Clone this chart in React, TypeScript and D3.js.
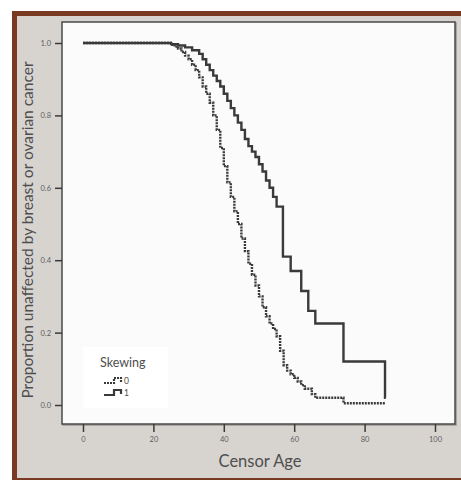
import { useEffect, useRef } from 'react';
import * as d3 from 'd3';

// Kaplan-Meier estimates: [age, proportion]
const skew0: [number, number][] = [
  [0, 1.0], [24, 1.0], [25, 0.995], [26, 0.99], [27, 0.985], [28, 0.975], [29, 0.965],
  [30, 0.955], [31, 0.94], [32, 0.925], [33, 0.905], [34, 0.88], [35, 0.86], [36, 0.835],
  [37, 0.8], [38, 0.76], [39, 0.71], [40, 0.66], [41, 0.615], [42, 0.575], [43, 0.535],
  [44, 0.5], [45, 0.46], [46, 0.425], [47, 0.39], [48, 0.36], [49, 0.33], [50, 0.3],
  [51, 0.27], [52, 0.245], [53, 0.225], [54, 0.21], [55, 0.19], [56, 0.15], [57, 0.11],
  [58, 0.095], [59, 0.085], [60, 0.075], [61, 0.065], [62, 0.055], [63, 0.045], [65, 0.03],
  [66, 0.02], [74, 0.005], [86, 0.005],
];

const skew1: [number, number][] = [
  [0, 1.0], [23, 1.0], [25, 0.997], [27, 0.993], [29, 0.988], [31, 0.98], [33, 0.97],
  [34, 0.955], [35, 0.94], [36, 0.925], [37, 0.91], [38, 0.895], [39, 0.88], [40, 0.86],
  [41, 0.84], [42, 0.82], [43, 0.8], [44, 0.78], [45, 0.76], [46, 0.735], [47, 0.715],
  [48, 0.7], [49, 0.685], [50, 0.665], [51, 0.645], [52, 0.62], [53, 0.6], [54, 0.575],
  [55, 0.548], [56.8, 0.41], [59, 0.37], [62, 0.315], [64, 0.26], [66, 0.225], [74, 0.12],
  [85.8, 0.02], [86, 0.02],
];

const xTicks = [0, 20, 40, 60, 80, 100];
const yTicks = [0, 0.2, 0.4, 0.6, 0.8, 1.0];
const legendTitle = 'Skewing';
const legendLabels = ['0', '1'];

const W = 461;
const H = 480;
const font = 'Lato, "Open Sans", sans-serif';
const ink = '#3a3a3a';
const textGray = '#4e4e4e';

const App = () => {
  const svgRef = useRef<SVGSVGElement>(null);

  useEffect(() => {
    const svg = d3.select(svgRef.current);
    svg.selectAll('*').remove();

    // frame: white strip, brown border, gray panel
    svg.append('rect').attr('width', W).attr('height', H).attr('fill', '#ffffff');
    svg.append('rect').attr('x', 12).attr('y', 11).attr('width', W - 12).attr('height', H - 11).attr('fill', '#7a3a22');
    svg.append('rect').attr('x', 17).attr('y', 16).attr('width', W - 17).attr('height', 462).attr('fill', '#d7d4d0');

    const plot = { left: 62, top: 22, right: 455, bottom: 424 };

    const x = d3.scaleLinear().domain([0, 100]).range([83, 435]);
    const y = d3.scaleLinear().domain([0, 1]).range([405, 43]);

    // plot box
    svg.append('rect')
      .attr('x', plot.left + 1).attr('y', plot.top + 1)
      .attr('width', plot.right - plot.left).attr('height', plot.bottom - plot.top)
      .attr('fill', 'none').attr('stroke', '#9a9794').attr('stroke-width', 1.5);
    svg.append('rect')
      .attr('x', plot.left).attr('y', plot.top)
      .attr('width', plot.right - plot.left).attr('height', plot.bottom - plot.top)
      .attr('fill', '#fbfbfc').attr('stroke', '#4a4a4a').attr('stroke-width', 1.5);

    // y axis
    const yAxis = svg.append('g')
      .attr('transform', `translate(${plot.left}, 0)`)
      .call(d3.axisLeft(y).tickValues(yTicks).tickSize(7).tickFormat(d3.format('.1f')));
    yAxis.select('.domain').remove();
    yAxis.selectAll('line').attr('stroke', ink).attr('stroke-width', 1.5);
    yAxis.selectAll('text').attr('fill', '#5e5e5e').attr('font-size', 7.5).attr('font-family', font).attr('dx', -1);

    // x axis
    const xAxis = svg.append('g')
      .attr('transform', `translate(0, ${plot.bottom})`)
      .call(d3.axisBottom(x).tickValues(xTicks).tickSize(8).tickFormat(d3.format('d')));
    xAxis.select('.domain').remove();
    xAxis.selectAll('line').attr('stroke', ink).attr('stroke-width', 1.5);
    xAxis.selectAll('text').attr('fill', '#5e5e5e').attr('font-size', 7.5).attr('font-family', font).attr('dy', '0.9em');

    // axis titles
    svg.append('text')
      .attr('x', 260).attr('y', 467)
      .attr('text-anchor', 'middle')
      .attr('font-family', font).attr('font-size', 16.5)
      .attr('fill', textGray)
      .text('Censor Age');

    svg.append('text')
      .attr('transform', `translate(33, 230) rotate(-90)`)
      .attr('text-anchor', 'middle')
      .attr('font-family', font).attr('font-size', 15.5)
      .attr('fill', textGray)
      .text('Proportion unaffected by breast or ovarian cancer');

    // survival curves
    const line = d3.line<[number, number]>()
      .x(d => x(d[0]))
      .y(d => y(d[1]))
      .curve(d3.curveStepAfter);

    svg.append('path')
      .datum(skew1)
      .attr('fill', 'none')
      .attr('stroke', ink)
      .attr('stroke-width', 2.4)
      .attr('d', line);

    svg.append('path')
      .datum(skew0)
      .attr('fill', 'none')
      .attr('stroke', ink)
      .attr('stroke-width', 2.4)
      .attr('stroke-dasharray', '2 1')
      .attr('d', line);

    // legend
    const lg = svg.append('g');
    lg.append('rect')
      .attr('x', 83).attr('y', 347).attr('width', 85).attr('height', 61)
      .attr('fill', '#ffffff');
    lg.append('text')
      .attr('x', 100).attr('y', 367)
      .attr('font-family', font).attr('font-size', 12.5)
      .attr('fill', textGray)
      .text(legendTitle);
    legendLabels.forEach((lab, i) => {
      const ly = 381 + i * 12;
      lg.append('path')
        .attr('d', `M104,${ly + 2} h10 v-5 h7 v4`)
        .attr('fill', 'none')
        .attr('stroke', ink)
        .attr('stroke-width', 2.2)
        .attr('stroke-dasharray', i === 0 ? '2 1' : null);
      lg.append('text')
        .attr('x', 124).attr('y', ly + 3)
        .attr('font-family', font).attr('font-size', 8.5)
        .attr('fill', textGray)
        .text(lab);
    });
  }, []);

  return (
    <svg ref={svgRef} width={W} height={H} style={{ position: 'absolute', left: 0, top: 0 }} />
  );
};

export default App;
